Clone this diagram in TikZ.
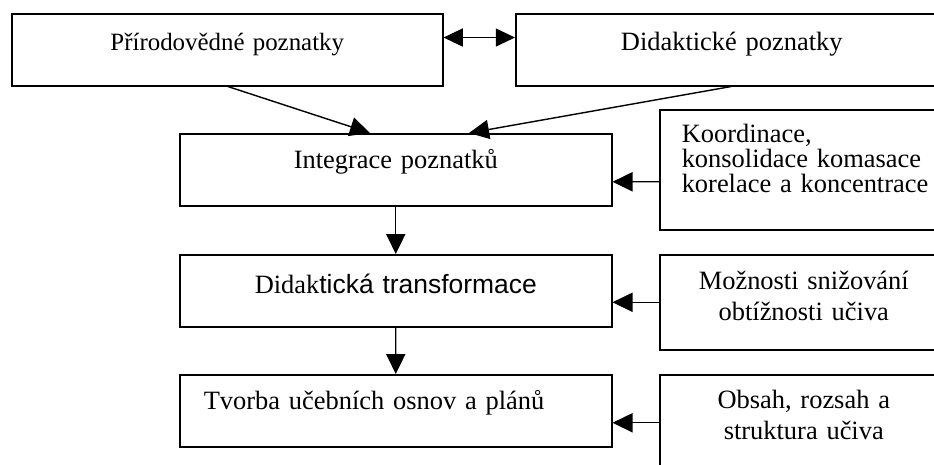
\documentclass[tikz,border=0pt]{standalone}
\usepackage{fontspec}
\setmainfont{Liberation Serif}
\newfontfamily\arialfont{Liberation Sans}
\usetikzlibrary{arrows.meta,calc,positioning}

\begin{document}
\begin{tikzpicture}[
		blok/.style={draw, line width=1.1pt, inner sep=0pt, align=center, text width=10.8cm,
			font=\fontsize{18.8}{22}\selectfont, anchor=north west},
		bocni/.style={blok, text width=7.2cm},
		sipka/.style={-{Triangle[length=0.5cm,width=0.48cm]}, line width=1pt},
		oboustranna/.style={{Triangle[length=0.48cm,width=0.45cm]}-{Triangle[length=0.48cm,width=0.45cm]}, line width=1pt}
		]
	\useasboundingbox (0,0) rectangle (23.35,-11.6);
	\clip (0,0) rectangle (23.35,-11.6);

	% --- horni rada ---
	\node[blok, font=\fontsize{17.7}{21}\selectfont, text width=10.775cm, text height=0.925cm, text depth=0.875cm] (PP) at (0.275,-0.325) {Přírodovědné poznatky};
	\node[blok, text height=0.925cm, text depth=0.875cm] (DP) at (12.875,-0.325) {Didaktické poznatky};

	% --- hlavni sloupec ---
	\node[blok, text height=0.875cm, text depth=0.925cm] (IP) at (4.475,-3.325) {Integrace poznatků};
	\node[blok, text height=0.975cm, text depth=0.825cm] (DT) at (4.475,-6.35) {Didak{\arialfont tická transformace}};
	\node[blok, align=left, text width=9.6cm, inner xsep=0.6cm, text height=0.875cm, text depth=0.925cm] (TU) at (4.475,-9.35) {Tvorba učebních osnov a plánů};

	% --- bocni bloky ---
	\node[bocni, align=left, text width=6.6cm, inner xsep=0.55cm, font=\fontsize{18.8}{17.8}\selectfont, text height=0.825cm, text depth=2.175cm] (KK) at (16.475,-2.725) {Koordinace,\\ konsolidace komasace\\ korelace a koncentrace};
	\node[bocni, text height=0.875cm, text depth=1.5cm] (MS) at (16.475,-6.35) {Možnosti snižování\\ obtížnosti učiva};
	\node[bocni, text height=0.85cm, text depth=1.55cm] (OR) at (16.475,-9.35) {Obsah, rozsah a\\ struktura učiva};

	% --- sipky ---
	\draw[oboustranna] ($(PP.north east)!1/3!(PP.south east)$) -- ($(DP.north west)!1/3!(DP.south west)$);
	\draw[sipka] ([xshift=5.425cm]PP.south west) -- ([xshift=4.775cm]IP.north west);
	\draw[sipka] ([xshift=5.4cm]DP.south west) -- ([xshift=7.25cm]IP.north west);
	\draw[sipka] ([yshift=-0.3cm]KK.west) -- ([yshift=-0.3cm]IP.east);
	\draw[sipka] (IP) -- (DT);
	\draw[sipka] (MS.west) -- (MS.west -| DT.east);
	\draw[sipka] (DT) -- (TU);
	\draw[sipka] (OR.west) -- (OR.west -| TU.east);

\end{tikzpicture}
\end{document}
